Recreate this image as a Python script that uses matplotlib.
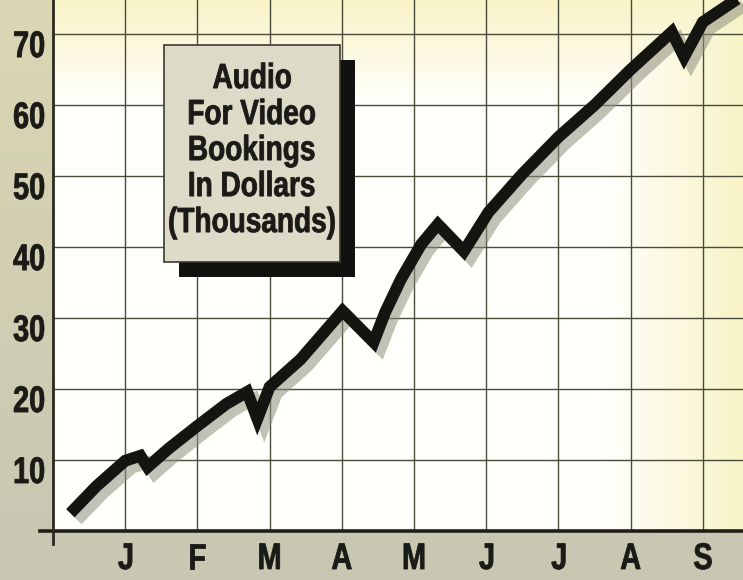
import numpy as np
import matplotlib
matplotlib.use("Agg")
import matplotlib.pyplot as plt
import matplotlib.patheffects as pe
from matplotlib.patches import Rectangle, PathPatch
from matplotlib.textpath import TextPath
from matplotlib.font_manager import FontProperties
from matplotlib.transforms import Affine2D

# monthly bookings, thousands of dollars (month index along x)
months = ["J", "F", "M", "A", "M", "J", "J", "A", "S"]
month_pos = [1, 2, 3, 4, 5, 6, 7, 8, 9]
yticks = [10, 20, 30, 40, 50, 60, 70]
title_lines = ["Audio", "For Video", "Bookings", "In Dollars", "(Thousands)"]

book_x = [0.24, 0.6, 1.0, 1.21, 1.31, 1.6, 2.0, 2.4, 2.69, 2.83, 3.0, 3.43,
          4.01, 4.44, 4.6, 4.82, 5.1, 5.33, 5.69, 6.03, 6.5, 7.0, 7.5, 8.0,
          8.57, 8.74, 9.0, 9.6]
book_y = [2.5, 6.3, 9.9, 10.6, 9.0, 11.6, 14.8, 17.9, 19.6, 15.8, 20.3, 24.2,
          31.0, 26.6, 30.8, 35.5, 40.4, 43.2, 39.4, 44.9, 50.3, 55.5, 60.0, 65.0,
          70.3, 66.8, 71.7, 75.8]

W, H = 743, 580
fig = plt.figure(figsize=(W / 100, H / 100), dpi=100)
fig.patch.set_facecolor("#c9c7b3")

# page behind the chart: warmer at the top, greyer lower down
bg = fig.add_axes([0, 0, 1, 1], zorder=-1)
bg.axis("off")
t = np.linspace(0, 1, 100)[:, None, None]
top_c = np.array([0.86, 0.84, 0.70])
low_c = np.array([0.78, 0.78, 0.70])
bg.imshow(low_c + t * (top_c - low_c) * np.ones((100, 2, 3)), origin="lower",
          extent=(0, 1, 0, 1), aspect="auto")

ax = fig.add_axes([53 / W, 49 / H, 690 / W, 531 / H])
xmax, ymax = 9.556, 74.8
ax.set_xlim(0, xmax)
ax.set_ylim(0, ymax)
ax.set_xticks([])
ax.set_yticks([])
for s in ax.spines.values():
    s.set_visible(False)

# paper tint: white centre going yellow at the top and right
gx, gy = np.meshgrid(np.linspace(0, 1, 200), np.linspace(0, 1, 200))
tint = np.clip(np.maximum((gy - 0.80) / 0.2, (gx - 0.80) / 0.2), 0, 1) * 0.9
white = np.array([1.0, 1.0, 0.99])
yellow = np.array([0.97, 0.95, 0.76])
img = white + tint[..., None] * (yellow - white)
ax.imshow(img, extent=(0, xmax, 0, ymax), origin="lower", aspect="auto", zorder=0)

grid_col = "#4b4b3b"
for xp in month_pos:
    ax.axvline(xp, color=grid_col, lw=1.0, zorder=1)
for yp in yticks:
    ax.axhline(yp, color=grid_col, lw=1.0, zorder=1)

# axis lines run a little past the origin
ax.plot([-0.18, xmax], [0, 0], color="#1e1e16", lw=2.6, clip_on=False, zorder=3)
ax.plot([0, 0], [-1.9, ymax], color="#2a2a20", lw=2.0, clip_on=False, zorder=3)

# condensed bold lettering: squeeze a bold sans path horizontally
fp = FontProperties(family="Liberation Sans", weight="bold")
ink = "#1a1a16"


def ctext(x, y, s, em, ha="center", dx=0, dy=0, sx=0.78, zorder=9):
    tp = TextPath((0, 0), s, size=em, prop=fp)
    ext = tp.get_extents()
    ox = {"center": (ext.x0 + ext.x1) / 2, "right": ext.x1, "left": ext.x0}[ha]
    px, py = ax.transData.transform((x, y))
    tr = Affine2D().translate(-ox, 0).scale(sx, 1).translate(px + dx, py + dy)
    fig.add_artist(PathPatch(tp, transform=tr, facecolor=ink, edgecolor=ink,
                             lw=0.6, zorder=zorder))


for yp in yticks:
    ctext(0, yp, str(yp), 37, ha="right", dx=-9, dy=-23)
for xp, m in zip(month_pos, months):
    ctext(xp, 0, m, 37, ha="center", dy=-38)

ax.plot(book_x, book_y, color="#141410", lw=8.5, solid_joinstyle="miter",
        solid_capstyle="butt", zorder=5,
        path_effects=[pe.SimpleLineShadow(offset=(5, -5), shadow_color="#8e8e7c", alpha=0.55),
                      pe.Normal()])

# title box with drop shadow
bx0, bx1 = (164 - 53) / 72.2, (340 - 53) / 72.2
by0, by1 = (531 - 262) / 7.1, (531 - 45) / 7.1
dx, dy = 15 / 72.2, 15 / 7.1
ax.add_patch(Rectangle((bx0 + dx, by0 - dy), bx1 - bx0, by1 - by0,
                       facecolor="#111110", edgecolor="none", zorder=6))
ax.add_patch(Rectangle((bx0, by0), bx1 - bx0, by1 - by0,
                       facecolor="#dedac8", edgecolor="#3a3a30", lw=1.2, zorder=7))
for i, line in enumerate(title_lines):
    # baselines every 36 px down from the top of the box
    ctext((bx0 + bx1) / 2, by1, line, 35, ha="center", dy=-(43 + 36 * i), sx=0.8)

fig.savefig("out.png", dpi=100, facecolor=fig.get_facecolor())
